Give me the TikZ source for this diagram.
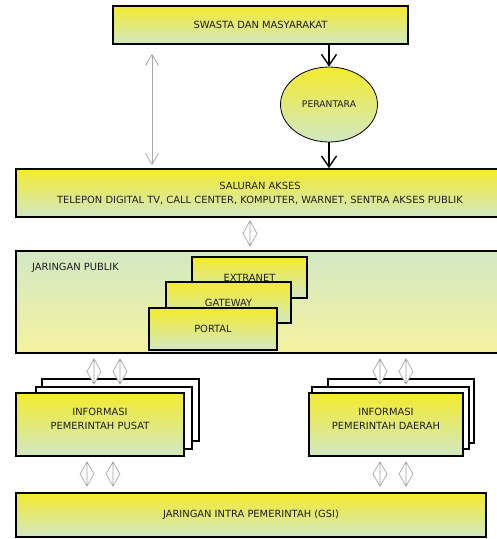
\documentclass[tikz,border=0pt]{standalone}
\usepackage{fontspec}
\setmainfont{DejaVu Sans}
\usetikzlibrary{arrows.meta,calc,shapes.geometric}
\definecolor{boxyellow}{RGB}{243,234,45}
\definecolor{boxgreen}{RGB}{210,232,196}
\definecolor{paleyellow}{RGB}{246,242,160}
\definecolor{txtgray}{RGB}{30,30,30}

\tikzset{
  panel/.style={draw=black, line width=1.7pt, top color=boxyellow, bottom color=boxgreen,
    text=txtgray, align=center, inner sep=0pt},
  sheet/.style={draw=black, line width=1.3pt, fill=white, inner sep=0pt},
  dia/.style={draw=gray!75, fill=white, line width=0.6pt, to path={
    (\tikztostart) -- ($(\tikztostart)!0.5!(\tikztotarget)+(7,0)$) -- (\tikztotarget)
    -- ($(\tikztostart)!0.5!(\tikztotarget)+(-7,0)$) -- cycle
    (\tikztostart) -- (\tikztotarget)}},
  blkarr/.style={-{Straight Barb[length=11pt,width=15pt]}, line width=1.4pt, black},
  grayarr/.style={{Straight Barb[length=11pt,width=13pt]}-{Straight Barb[length=11pt,width=13pt]}, line width=0.8pt, gray!70}
}

\begin{document}
\begin{tikzpicture}[x=1pt, y=-1pt, every node/.style={font=\fontsize{9.9}{14}\selectfont}]
  \clip (0,0) rectangle (497,539);
  \fill[white] (0,0) rectangle (497,539);

  % atas
  \node[panel, minimum width=295, minimum height=38] (swasta) at (260.5,25) {SWASTA DAN MASYARAKAT};
  \node[panel, ellipse, line width=0.8pt, minimum width=97, minimum height=75] (perantara) at (329,104.5)
    {\fontsize{9.2}{10}\selectfont PERANTARA};
  \node[panel, minimum width=488, minimum height=48] (saluran) at (260,193)
    {SALURAN AKSES\\TELEPON DIGITAL TV, CALL CENTER, KOMPUTER, WARNET, SENTRA AKSES PUBLIK};

  \draw[blkarr] (perantara.north |- swasta.south) -- (perantara.north);
  \draw[blkarr] (perantara.south) -- (perantara.south |- saluran.north);
  \draw[grayarr] ([shift={(-108.5,9)}]swasta.south) -- ([shift={(-108,-3)}]saluran.north);

  % jaringan publik
  \node[panel, top color=boxgreen, bottom color=paleyellow, minimum width=488, minimum height=102] (publik) at (260,302) {};
  \node[anchor=west, text=txtgray, inner sep=0pt] (publiklabel) at (32,268) {JARINGAN PUBLIK};
  \node[panel, minimum width=115, minimum height=41] (extranet) at (249.5,277.5) {EXTRANET};
  \node[panel, minimum width=125, minimum height=41] (gateway) at (228.5,302.5) {GATEWAY};
  \node[panel, minimum width=128, minimum height=42] (portal) at (213,329) {PORTAL};

  \draw[dia] ([shift={(-10,3)}]saluran.south) to ([shift={(-10,-4)}]publik.north);

  % informasi pemerintah
  \node[sheet, minimum width=157, minimum height=62] (pusatback) at (120.5,410) {};
  \node[sheet, minimum width=156, minimum height=62] (pusatmid) at (114,418) {};
  \node[panel, minimum width=168, minimum height=63] (pusat) at (100,424.5) {INFORMASI\\PEMERINTAH PUSAT\\[-2pt]};

  \node[sheet, minimum width=146, minimum height=64] (daerahback) at (401,411) {};
  \node[sheet, minimum width=157, minimum height=62] (daerahmid) at (390.5,418) {};
  \node[panel, minimum width=154, minimum height=63] (daerah) at (386,424.5) {INFORMASI\\PEMERINTAH DAERAH\\[-2pt]};

  \foreach \dx in {-6,20} {
    \draw[dia] ([shift={(\dx,5)}]publik.south -| pusat.north) to ([shift={(\dx,-8)}]pusat.north);
    \draw[dia] ([shift={(\dx,5)}]publik.south -| daerah.north) to ([shift={(\dx,-8)}]daerah.north);
  }

  % jaringan intra
  \node[panel, minimum width=470, minimum height=44] (gsi) at (251,515) {JARINGAN INTRA PEMERINTAH (GSI)};

  \foreach \dx in {-13,13}
    \draw[dia] ([shift={(\dx,5)}]pusat.south) to ([shift={(\dx,-6)}]gsi.north -| pusat.south);
  \foreach \dx in {-6,20}
    \draw[dia] ([shift={(\dx,5)}]daerah.south) to ([shift={(\dx,-6)}]gsi.north -| daerah.south);
\end{tikzpicture}
\end{document}
